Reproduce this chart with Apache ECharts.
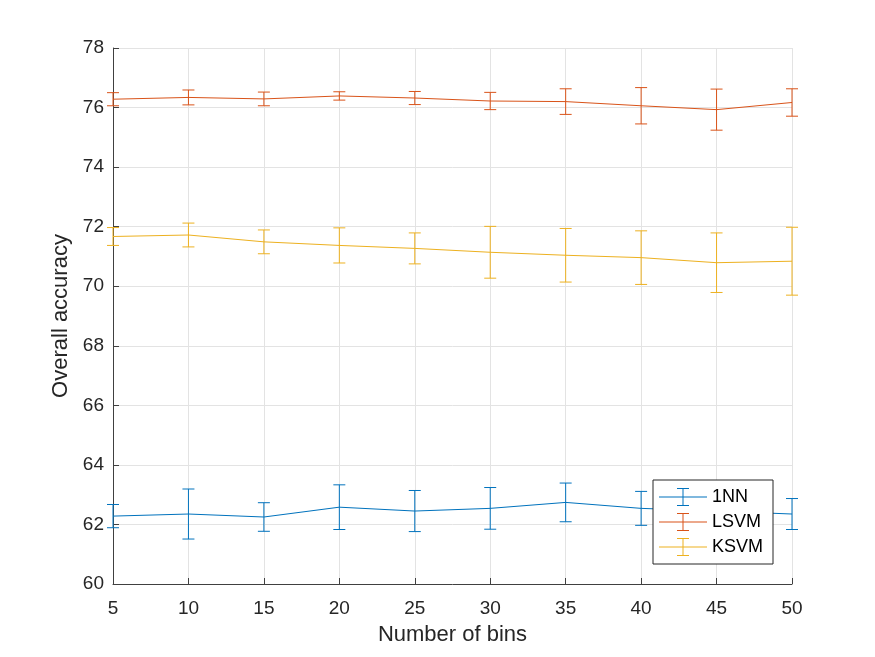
<!DOCTYPE html>
<html>
<head>
<meta charset="utf-8">
<script src="https://cdn.jsdelivr.net/npm/echarts@6/dist/echarts.min.js"></script>
<style>
html,body{margin:0;padding:0;background:#fff;}
#chart{width:875px;height:657px;}
</style>
</head>
<body>
<div id="chart"></div>
<script>
// number of bins on the x axis
var bins = [5, 10, 15, 20, 25, 30, 35, 40, 45, 50];

// mean accuracy and half error bar per classifier
var nnMean   = [62.28, 62.35, 62.25, 62.58, 62.45, 62.54, 62.74, 62.54, 62.45, 62.35];
var nnErr    = [0.39, 0.84, 0.48, 0.75, 0.69, 0.70, 0.65, 0.57, 0.52, 0.52];
var lsvmMean = [76.28, 76.34, 76.29, 76.39, 76.32, 76.22, 76.20, 76.06, 75.93, 76.17];
var lsvmErr  = [0.22, 0.25, 0.23, 0.14, 0.22, 0.29, 0.43, 0.61, 0.69, 0.46];
var ksvmMean = [71.67, 71.72, 71.49, 71.37, 71.27, 71.14, 71.04, 70.96, 70.79, 70.84];
var ksvmErr  = [0.30, 0.40, 0.40, 0.59, 0.52, 0.87, 0.90, 0.90, 1.00, 1.14];

var names  = ['1NN', 'LSVM', 'KSVM'];
var colors = ['#0072BD', '#D95319', '#EDB120'];
var font = 'Liberation Sans, Arial, sans-serif';

// legend icon: line with a capped error bar
var errIcon = 'path://M0,8.5h48v1H0z M23.5,0h1v18h-1z M18,0h12v1H18z M18,17h12v1H18z';

function lineData(means){
	var out = [];
	for(var i=0;i<bins.length;i++){
		out.push([bins[i], means[i]]);
	}
	return out;
}
function errData(means, errs){
	var out = [];
	for(var i=0;i<bins.length;i++){
		out.push([bins[i], means[i], errs[i]]);
	}
	return out;
}

function renderErr(params, api){
	var x = api.value(0), m = api.value(1), e = api.value(2);
	var hi = api.coord([x, m + e]);
	var lo = api.coord([x, m - e]);
	var w = 6;
	var st = {stroke: api.visual('color'), lineWidth: 1};
	return {
		type: 'group',
		children: [
			{type: 'line', shape: {x1: hi[0], y1: hi[1], x2: lo[0], y2: lo[1]}, style: st},
			{type: 'line', shape: {x1: hi[0]-w, y1: hi[1], x2: hi[0]+w, y2: hi[1]}, style: st},
			{type: 'line', shape: {x1: lo[0]-w, y1: lo[1], x2: lo[0]+w, y2: lo[1]}, style: st}
		]
	};
}

var means = [nnMean, lsvmMean, ksvmMean];
var errs = [nnErr, lsvmErr, ksvmErr];
var series = [];
for(var k=0;k<names.length;k++){
	series.push({
		name: names[k],
		type: 'line',
		data: lineData(means[k]),
		symbol: 'none',
		color: colors[k],
		lineStyle: {width: 1, color: colors[k]},
		animation: false
	});
	series.push({
		name: names[k],
		type: 'custom',
		renderItem: renderErr,
		data: errData(means[k], errs[k]),
		itemStyle: {color: colors[k]},
		encode: {x: 0, y: 1},
		animation: false
	});
}

var myChart = echarts.init(document.getElementById('chart'));
var option = {
	backgroundColor: '#fff',
	grid: {left: 113, right: 83, top: 48, bottom: 73, show: false},
	xAxis: {
		type: 'value',
		min: 5, max: 50, interval: 5,
		name: 'Number of bins',
		nameLocation: 'middle',
		nameGap: 40,
		nameTextStyle: {fontFamily: font, fontSize: 22, color: '#262626'},
		axisLine: {lineStyle: {color: '#404040', width: 1}},
		axisTick: {inside: true, length: 6, lineStyle: {color: '#404040'}},
		axisLabel: {fontFamily: font, fontSize: 19, color: '#262626', margin: 15},
		splitLine: {show: true, lineStyle: {color: '#e3e3e3', width: 1}}
	},
	yAxis: {
		type: 'value',
		min: 60, max: 78, interval: 2,
		name: 'Overall accuracy',
		nameLocation: 'middle',
		nameGap: 37,
		nameTextStyle: {fontFamily: font, fontSize: 22, color: '#262626'},
		axisLine: {show: true, lineStyle: {color: '#404040', width: 1}},
		axisTick: {show: true, inside: true, length: 6, lineStyle: {color: '#404040'}},
		axisLabel: {fontFamily: font, fontSize: 19, color: '#262626', margin: 9},
		splitLine: {show: true, lineStyle: {color: '#e3e3e3', width: 1}}
	},
	legend: {
		data: [
			{name: '1NN', icon: errIcon},
			{name: 'LSVM', icon: errIcon},
			{name: 'KSVM', icon: errIcon}
		],
		orient: 'vertical',
		left: 653,
		top: 480,
		itemWidth: 48,
		itemHeight: 18,
		itemGap: 7,
		padding: [8, 10, 8, 6],
		backgroundColor: '#fff',
		borderColor: '#262626',
		borderWidth: 1,
		borderRadius: 0,
		itemStyle: {borderWidth: 0},
		textStyle: {fontFamily: font, fontSize: 18, color: '#000', lineHeight: 18}
	},
	series: series
};
myChart.setOption(option, true);
</script>
</body>
</html>
